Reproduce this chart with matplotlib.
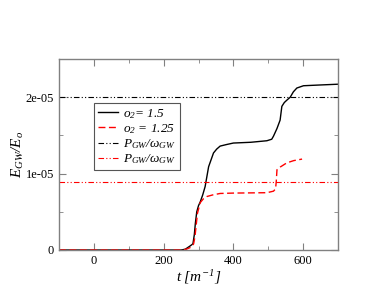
import numpy as np
import matplotlib
matplotlib.use('Agg')
import matplotlib.pyplot as plt

plt.rcParams['font.family'] = 'Liberation Serif'
plt.rcParams['mathtext.fontset'] = 'custom'
plt.rcParams['mathtext.rm'] = 'Liberation Serif:italic'
plt.rcParams['mathtext.it'] = 'Liberation Serif:italic'

# o2 = 1.5 (black)
t_a = [-100, 250, 262, 275, 284, 288, 291, 295, 300, 305, 312, 319, 329, 343, 352, 362, 380, 400,
       450, 496, 510, 515, 525, 534, 539, 546, 553, 563, 572, 582, 601, 649, 700]
e_a = [0, 0, 0.01, 0.05, 0.08, 0.20, 0.35, 0.50, 0.58, 0.63, 0.72, 0.83, 1.09, 1.27, 1.32, 1.36,
       1.38, 1.40, 1.41, 1.43, 1.45, 1.49, 1.59, 1.70, 1.88, 1.93, 1.96, 2.00, 2.07, 2.12, 2.15, 2.16,
       2.17]
# o2 = 1.25 (red)
t_b = [-100, 250, 265, 280, 286, 290, 297, 305, 314, 324, 340, 362, 400, 496, 515, 521, 523,
       525, 534, 553, 573, 597]
e_b = [0, 0, 0.01, 0.04, 0.08, 0.18, 0.48, 0.62, 0.67, 0.70, 0.72, 0.74, 0.745, 0.75, 0.77, 0.80,
       0.9, 1.05, 1.085, 1.14, 1.17, 1.19]
p_a = 2.0
p_b = 0.885

scale = 1e-5
fig = plt.figure(figsize=(3.82, 2.95), dpi=100)
ax = fig.add_axes([59/382, 1-250/295, 279/382, 191/295])

ax.plot(t_a, np.array(e_a)*scale, color='black', lw=1.0, label=r'$o_2$= 1.5')
ax.plot(t_b, np.array(e_b)*scale, color='red', lw=1.0, dashes=(5, 2.5),
        label=r'$o_2$ = 1.25')
ax.axhline(p_a*scale, color='black', lw=0.8, dashes=(5, 2, 1, 2, 1, 2),
           label=r'$P_{GW}/\omega_{GW}$')
ax.axhline(p_b*scale, color='red', lw=0.8, dashes=(5, 2, 1, 2, 1, 2),
           label=r'$P_{GW}/\omega_{GW}$')

ax.set_xlim(-100, 700)
ax.set_ylim(0, 2.5e-5)
ax.set_xticks([0, 200, 400, 600])
ax.set_xticks([-100, 100, 300, 500, 700], minor=True)
ax.set_yticks([0, 1e-5, 2e-5])
ax.set_yticklabels(['0', '1e-05', '2e-05'])
ax.set_yticks([0.5e-5, 1.5e-5], minor=True)
ax.tick_params(which='both', direction='in', top=True, right=True, color='gray',
               labelsize=9)
ax.tick_params(which='major', length=5)
ax.tick_params(which='minor', length=3)
for s in ax.spines.values():
    s.set_color('gray')
    s.set_linewidth(1.0)

ax.set_xlabel(r'$t\ [m^{-1}]$', fontsize=11, labelpad=1)
ax.set_ylabel(r'$E_{GW}/E_o$', fontsize=11, labelpad=0)

leg = ax.legend(loc='upper left', bbox_to_anchor=(0.125, 0.77),
                prop={'size': 9.5, 'style': 'italic'},
                fancybox=False, edgecolor='#555555', framealpha=1,
                handlelength=1.5, borderpad=0.3, labelspacing=0.1,
                handletextpad=0.4, borderaxespad=0)
leg.get_frame().set_linewidth(0.8)

fig.savefig('out.png', dpi=100)
